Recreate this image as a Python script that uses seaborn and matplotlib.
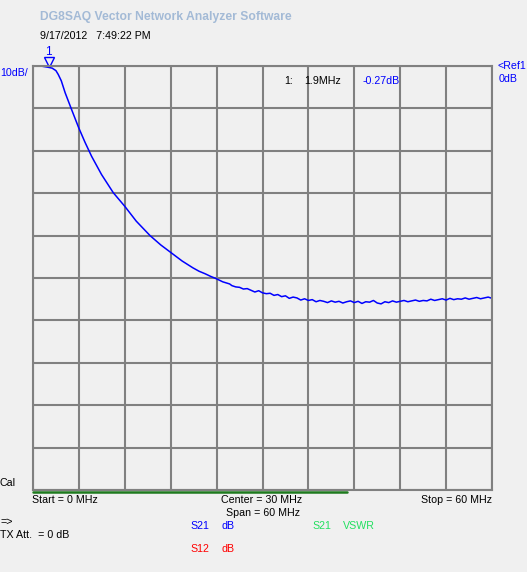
import matplotlib
matplotlib.use('Agg')
import matplotlib.pyplot as plt
import seaborn as sns
import pandas as pd

# S21 trace (MHz, dB)
freq_mhz = [0.0, 1.0, 1.9, 2.5, 3.0, 3.3, 3.7, 4.2, 5.05, 5.96, 6.8, 7.66, 8.96,
            10.5, 12.0, 13.5, 15.3, 16.7, 18.1, 19.5, 20.9, 21.7, 22.5, 23.2, 24.0, 24.8, 25.7,
            26.0, 26.5, 27.0, 27.5, 28.0, 28.5, 29.0, 29.5, 30.0, 30.5, 31.0, 31.5,
            32.0, 32.5, 33.0, 33.5, 34.0, 34.5, 35.0, 35.5, 36.0, 36.5, 37.0, 37.5,
            38.0, 38.5, 39.0, 39.5, 40.0, 40.5, 41.0, 41.5, 42.0, 42.5, 43.0, 43.5,
            44.0, 44.5, 45.0, 45.5, 46.0, 46.5, 47.0, 47.5, 48.0, 48.5, 49.0, 49.5,
            50.0, 50.5, 51.0, 51.5, 52.0, 52.5, 53.0, 53.5, 54.0, 54.5, 55.0, 55.5,
            56.0, 56.5, 57.0, 57.5, 58.0, 58.5, 59.0, 59.5, 60.0]
s21_db = [0.0, 0.0, -0.27, -0.5, -1.1, -2.0, -3.5, -6.3, -10.3, -14.5, -18.0, -21.3, -25.6,
          -29.9, -33.1, -36.6, -40.0, -42.2, -44.1, -46.0, -47.6, -48.4, -49.0, -49.6, -50.2, -50.9, -51.4,
          -51.8, -52.1, -52.2, -52.6, -52.5, -52.9, -53.3, -53.0, -53.5, -53.7, -53.6, -54.1,
          -53.9, -54.4, -54.2, -54.8, -54.5, -54.7, -55.2, -54.9, -55.3, -55.1, -55.6, -55.3,
          -55.5, -55.8, -55.4, -55.7, -55.5, -55.9, -55.6, -55.4, -55.8, -55.5, -56.0, -55.6,
          -55.7, -55.3, -55.9, -56.1, -55.6, -55.8, -55.4, -55.7, -55.5, -55.3, -55.6, -55.4,
          -55.2, -55.5, -55.3, -55.4, -55.0, -55.3, -55.1, -54.9, -55.2, -54.8, -55.1, -54.9,
          -55.0, -54.7, -55.0, -54.8, -54.6, -54.9, -54.7, -54.5, -54.8]

marker_freq = 1.9
marker_db = -0.27

W, H = 527, 572
bg = '#F0F0F0'

sns.set_style('white')
plt.rcParams['font.family'] = ['Liberation Sans', 'DejaVu Sans']

fig = plt.figure(figsize=(W / 100, H / 100), dpi=100, facecolor=bg)

def px(x, y):
    return x / W, 1 - y / H

# plot area in pixels: x 33..492, y 66..490
ax = fig.add_axes([33 / W, 1 - 490 / H, (492 - 33) / W, (490 - 66) / H])
ax.set_facecolor(bg)

df = pd.DataFrame({'f': freq_mhz, 'db': s21_db})
sns.lineplot(data=df, x='f', y='db', ax=ax, color='#0000FF', linewidth=1.1)

ax.set_xlim(0, 60)
ax.set_ylim(-100, 0)
ax.set_xticks([i * 6 for i in range(11)])
ax.set_yticks([-i * 10 for i in range(11)])
ax.grid(True, color='#808080', linewidth=1.5)
ax.tick_params(length=0, labelbottom=False, labelleft=False)
for s in ax.spines.values():
    s.set_color('#808080')
    s.set_linewidth(1.5)
ax.set_xlabel('')
ax.set_ylabel('')

# marker 1
ax.plot([marker_freq + 0.15], [0.9], marker='v', markersize=7, markerfacecolor='none',
        markeredgecolor='#0000FF', clip_on=False)
ax.text(marker_freq + 0.15, 1.8, '1', color='#0000FF', ha='center', va='bottom', fontsize=8.5)

# green bar below the grid
fig.add_artist(plt.Line2D([33 / W, 347 / W], [1 - 491.5 / H] * 2, color='#1E7A1E', linewidth=1.8))

fs = 7.7
fig.text(*px(40, 17), 'DG8SAQ Vector Network Analyzer Software', color='#A3BAD6',
         fontsize=8.7, fontweight='bold', va='center')
fig.text(*px(40, 36), '9/17/2012   7:49:22 PM', color='black', fontsize=fs, va='center')
fig.text(*px(0, 73), '10dB/', color='#0000FF', fontsize=fs, va='center')
fig.text(*px(284, 81), '1:', color='black', fontsize=fs, va='center')
fig.text(*px(304, 81), '1.9MHz', color='black', fontsize=fs, va='center')
fig.text(*px(363, 81), '%.2fdB' % marker_db, color='#0000FF', fontsize=fs, va='center')
fig.text(*px(497, 66), '<Ref1', color='#0000FF', fontsize=fs, va='center')
fig.text(*px(499, 79), '0dB', color='#0000FF', fontsize=fs, va='center')
fig.text(*px(0, 483), 'Cal', color='black', fontsize=fs, va='center')
fig.text(*px(32, 500), 'Start = 0 MHz', color='black', fontsize=fs, va='center')
fig.text(*px(262, 500), 'Center = 30 MHz', color='black', fontsize=fs, va='center', ha='center')
fig.text(*px(492, 500), 'Stop = 60 MHz', color='black', fontsize=fs, va='center', ha='right')
fig.text(*px(263, 513), 'Span = 60 MHz', color='black', fontsize=fs, va='center', ha='center')
fig.text(*px(0, 522), '=>', color='black', fontsize=fs, va='center')
fig.text(*px(0, 535), 'TX Att.  = 0 dB', color='black', fontsize=fs, va='center')
fig.text(*px(190, 526), 'S21', color='#0000FF', fontsize=fs, va='center')
fig.text(*px(222, 526), 'dB', color='#0000FF', fontsize=fs, va='center')
fig.text(*px(312, 526), 'S21', color='#22E060', fontsize=fs, va='center')
fig.text(*px(343, 526), 'VSWR', color='#22E060', fontsize=fs, va='center')
fig.text(*px(190, 549), 'S12', color='#FF0000', fontsize=fs, va='center')
fig.text(*px(222, 549), 'dB', color='#FF0000', fontsize=fs, va='center')

fig.savefig('out.png', dpi=100, facecolor=bg)
